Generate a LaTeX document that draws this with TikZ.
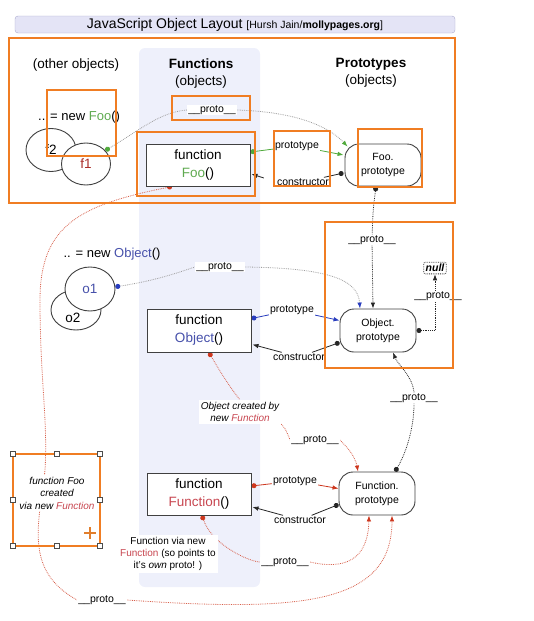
\documentclass[tikz,border=0pt]{standalone}
\usepackage{fontspec}
\setmainfont{Liberation Sans}
\usetikzlibrary{arrows.meta,shapes.geometric,calc}
\definecolor{orng}{RGB}{240,125,35}
\definecolor{lav}{RGB}{238,240,251}
\definecolor{ttlfill}{RGB}{228,228,246}
\definecolor{ttldraw}{RGB}{170,170,205}
\definecolor{grn}{RGB}{80,170,60}
\definecolor{footxt}{RGB}{95,170,80}
\definecolor{blu}{RGB}{40,60,190}
\definecolor{objtxt}{RGB}{70,80,170}
\definecolor{redd}{RGB}{205,55,30}
\definecolor{funtxt}{RGB}{200,70,80}
\definecolor{f1txt}{RGB}{170,45,40}
\pgfdeclarelayer{bgl}
\pgfdeclarelayer{conn}
\pgfsetlayers{bgl,conn,main}
\begin{document}
\begin{tikzpicture}[x=1pt,y=-1pt,
  lbl/.style={font=\fontsize{10.5}{12}\selectfont, fill=white, inner sep=1pt},
  head/.style={font=\fontsize{13.5}{17}\selectfont, align=center},
  fnbox/.style={draw=black!75, line width=1pt, fill=white, minimum width=104pt, minimum height=42pt, align=center, font=\fontsize{13.5}{18}\selectfont, inner sep=0pt},
  protobox/.style={draw=black!75, line width=0.9pt, fill=white, rounded corners=14pt, minimum width=76pt, minimum height=43pt, align=center, font=\fontsize{10.5}{14}\selectfont, inner sep=0pt},
  objell/.style={ellipse, draw=black!75, line width=0.9pt, fill=white, minimum width=50pt, minimum height=43pt, inner sep=0pt, font=\fontsize{13.5}{16}\selectfont},
  hilite/.style={draw=orng, line width=1.8pt},
  note/.style={font=\fontsize{10}{12.5}\selectfont\itshape, fill=white, align=center, inner sep=2pt},
  gdot/.style={draw=gray!75, densely dotted, line width=0.8pt},
  bdot/.style={draw=black!85, densely dotted, line width=0.8pt},
  rdot/.style={draw=redd!80, densely dotted, line width=0.8pt},
  blk/.style={draw=black!85, line width=0.8pt},
  grline/.style={draw=grn, line width=0.8pt},
  blline/.style={draw=blu, line width=0.8pt},
  rdline/.style={draw=redd, line width=0.8pt},
]
\useasboundingbox (0,0) rectangle (534,621);
\begin{pgfonlayer}{bgl}
  \fill[lav, rounded corners=6pt] (139,48) rectangle (260,587);
\end{pgfonlayer}

% title
\node[draw=ttldraw, fill=ttlfill, rounded corners=3pt, minimum width=440pt, minimum height=17pt, inner sep=0pt] (title) at (235,24.5)
  {\fontsize{14}{16}\selectfont JavaScript Object Layout \fontsize{10.5}{12}\selectfont[Hursh Jain/\textbf{mollypages.org}]};

% headings
\node[head] (hother) at (76,65) {(other objects)};
\node[head] (hfun) at (201,74) {\textbf{Functions}\\(objects)};
\node[head] (hproto) at (371,73) {\textbf{Prototypes}\\(objects)};

% other objects
\node[font=\fontsize{13}{15}\selectfont, anchor=west, inner sep=0pt] (newfoo) at (38,117) {.. = new \textcolor{footxt}{Foo}()};
\node[objell] (f2) at (51,150) {f2};
\node[objell, minimum height=42pt, minimum width=49pt] (f1) at (86,164) {\textcolor{f1txt}{f1}};

\node[font=\fontsize{13}{15}\selectfont, inner sep=0pt] (newobj) at (112,254) {.. = new \textcolor{objtxt}{Object}()};
\node[objell, minimum height=40pt] (o2) at (76,310) {};
\node[font=\fontsize{13.5}{16}\selectfont, inner sep=0pt] (o2t) at (73,318) {o2};
\node[objell, minimum height=44pt] (o1) at (90,289) {\textcolor{objtxt}{o1}};

% functions
\node[fnbox] (foob) at (198,165) {function\\\textcolor{footxt}{Foo}()};
\node[fnbox, minimum height=43pt] (objb) at (199,330.5) {function\\\textcolor{objtxt}{Object}()};
\node[fnbox] (funb) at (199,494) {function\\\textcolor{funtxt}{Function}()};

% prototypes
\node[protobox, minimum height=42pt] (foop) at (383,165) {Foo.\\prototype};
\node[protobox] (objp) at (378,330.5) {Object.\\prototype};
\node[protobox] (funp) at (377,493.5) {Function.\\prototype};
\node[draw=black!80, densely dotted, line width=0.8pt, rounded corners=2pt, inner sep=2pt, font=\fontsize{10.5}{12}\selectfont\bfseries\itshape] (null) at (435,268) {null};

% labels
\node[lbl] (pfoo) at (212,110) {\_\_proto\_\_};
\node[lbl] (pA) at (297,146) {prototype};
\node[lbl] (cA) at (303,182) {constructor};
\node[lbl] (pp2) at (372,240) {\_\_proto\_\_};
\node[lbl] (pp3) at (220,267) {\_\_proto\_\_};
\node[lbl] (pB) at (292,310) {prototype};
\node[lbl] (cB) at (299,357) {constructor};
\node[lbl] (pp4) at (438,296) {\_\_proto\_\_};
\node[lbl] (pp6) at (414,398) {\_\_proto\_\_};
\node[note] (ocn) at (240,412) {Object created by\\new \textcolor{funtxt}{Function}};
\node[lbl] (pp5) at (315,440) {\_\_proto\_\_};
\node[lbl] (pC) at (295,481) {prototype};
\node[lbl] (cC) at (300,520) {constructor};
\node[font=\fontsize{10}{12}\selectfont, fill=white, align=center, inner sep=2pt] (fvn) at (168,554) {Function via new\\\textcolor{funtxt}{Function} (so points to\\it's \textit{own} proto! )};
\node[lbl] (pp7) at (285,562) {\_\_proto\_\_};
\node[lbl] (pp8) at (102,600) {\_\_proto\_\_};
\node[note, font=\fontsize{10}{12.5}\selectfont\itshape] (fooc) at (57,493) {function Foo\\created\\via new \textcolor{funtxt}{Function}};

% connectors
\begin{pgfonlayer}{conn}
  % Foo section
  \draw[gdot, {Circle[color=grn,length=5pt,width=5pt]}-] (f1.35) .. controls (140,130) and (160,112) .. (pfoo.west);
  \draw[gdot, -{Latex[color=grn,length=6pt,width=4.5pt]}] (pfoo.east) .. controls (300,112) and (330,128) .. ($(foop.north west)+(3,3)$);
  \draw[grline, {Circle[length=5pt,width=5pt]}-] ($(foob.east)+(0,-13)$) -- (pA);
  \draw[grline, -{Latex[length=6pt,width=4.5pt]}] (pA) -- ($(foop.west)+(-1,-10)$);
  \draw[blk, {Circle[length=5pt,width=5pt]}-] ($(foop.west)+(-1,8)$) -- (cA);
  \draw[blk, -{Latex[length=6pt,width=4.5pt]}] ($(cA.west)+(-12,-4)$) -- ($(foob.east)+(1,9)$);
  \draw[bdot, {Circle[length=5pt,width=5pt]}-] ($(foop.south)+(-7,0)$) .. controls (373,210) .. (pp2);
  \draw[bdot, -{Latex[length=6pt,width=4.5pt]}] (pp2) -- ($(objp.north)+(-5,0)$);
  % Object section
  \draw[gdot, {Circle[color=blu,length=5pt,width=5pt]}-] (o1.5) .. controls (160,280) and (185,270) .. (pp3.west);
  \draw[gdot, -{Latex[color=blu,length=6pt,width=4.5pt]}] (pp3.east) .. controls (330,268) and (358,280) .. ($(objp.north)+(-18,0)$);
  \draw[blline, {Circle[length=5pt,width=5pt]}-] ($(objb.east)+(0,-12)$) -- (pB);
  \draw[blline, -{Latex[length=6pt,width=4.5pt]}] (pB) -- ($(objp.west)+(0,-10)$);
  \draw[blk, {Circle[length=5pt,width=5pt]}-] ($(objp.west)+(0,12)$) -- (cB);
  \draw[blk, -{Latex[length=6pt,width=4.5pt]}] (cB) -- ($(objb.east)+(1,14)$);
  \draw[bdot, {Circle[length=5pt,width=5pt]}-] (objp.east) -| (pp4.south -| null.south);
  \draw[bdot, -{Latex[length=6pt,width=4.5pt]}] (pp4.north -| null.south) -- (null.south);
  \draw[rdot, {Circle[color=redd,length=5pt,width=5pt]}-] ($(objb.south)+(10,0)$) .. controls (222,375) and (232,390) .. (ocn.north);
  \draw[rdot] (ocn.south east) .. controls (285,428) .. (pp5.west);
  \draw[rdot, -{Latex[color=redd,length=6pt,width=4.5pt]}] (pp5.east) .. controls (345,445) and (355,455) .. ($(funp.north)+(-19,0)$);
  \draw[bdot, {Circle[length=5pt,width=5pt]}-] ($(funp.north)+(18,0)$) .. controls (405,455) and (414,430) .. (pp6.south);
  \draw[bdot, -{Latex[length=6pt,width=4.5pt]}] (pp6.north) .. controls (412,375) and (398,365) .. ($(objp.south)+(15,0)$);
  % Function section
  \draw[rdline, {Circle[length=5pt,width=5pt]}-] ($(funb.east)+(0,-8)$) -- (pC);
  \draw[rdline, -{Latex[length=6pt,width=4.5pt]}] (pC) -- ($(funp.west)+(0,-5)$);
  \draw[blk, {Circle[length=5pt,width=5pt]}-] ($(funp.west)+(0,11)$) -- (cC);
  \draw[blk, -{Latex[length=6pt,width=4.5pt]}] (cC) -- ($(funb.east)+(1,13)$);
  \draw[rdot, {Circle[color=redd,length=5pt,width=5pt]}-] ($(funb.south)+(3,0)$) .. controls (212,545) and (250,562) .. (pp7.west);
  \draw[rdot, -{Latex[color=redd,length=6pt,width=4.5pt]}] (pp7.east) .. controls (345,570) and (368,560) .. ($(funp.south)+(-8,0)$);
  % long Foo -> Function.prototype
  \draw[rdot, {Circle[color=redd,length=5pt,width=5pt]}-] ($(foob.south)+(-26,0)$) .. controls (80,205) and (40,225) .. (40,300) .. controls (40,380) and (48,420) .. (45,470) .. controls (40,520) and (22,570) .. (pp8.west);
  \draw[rdot, -{Latex[color=redd,length=6pt,width=4.5pt]}] (pp8.east) .. controls (300,612) and (392,605) .. ($(funp.south)+(15,0)$);
\end{pgfonlayer}

% orange highlight frames
\draw[hilite] (9,38) rectangle (455,203);
\draw[hilite] (47,90) rectangle (116,156);
\draw[hilite] (172,96) rectangle (250,120);
\draw[hilite] (137,132) rectangle (255,196);
\draw[hilite] (274,131) rectangle (330,186);
\draw[hilite] (358,129) rectangle (422,187);
\draw[hilite] (325,222) rectangle (453,368);
% selection frame
\draw[draw=orng, line width=1.5pt] (13,454) rectangle (100,546);
\foreach \hx/\hy in {13/454,56.5/454,100/454,13/500,100/500,13/546,56.5/546,100/546}
  \draw[draw=black!70, fill=white, line width=0.6pt] (\hx-2.5,\hy-2.5) rectangle (\hx+2.5,\hy+2.5);
\draw[orng!70!brown, line width=1.2pt] (84,533) -- (96,533) (90,527) -- (90,539);
\end{tikzpicture}
\end{document}
